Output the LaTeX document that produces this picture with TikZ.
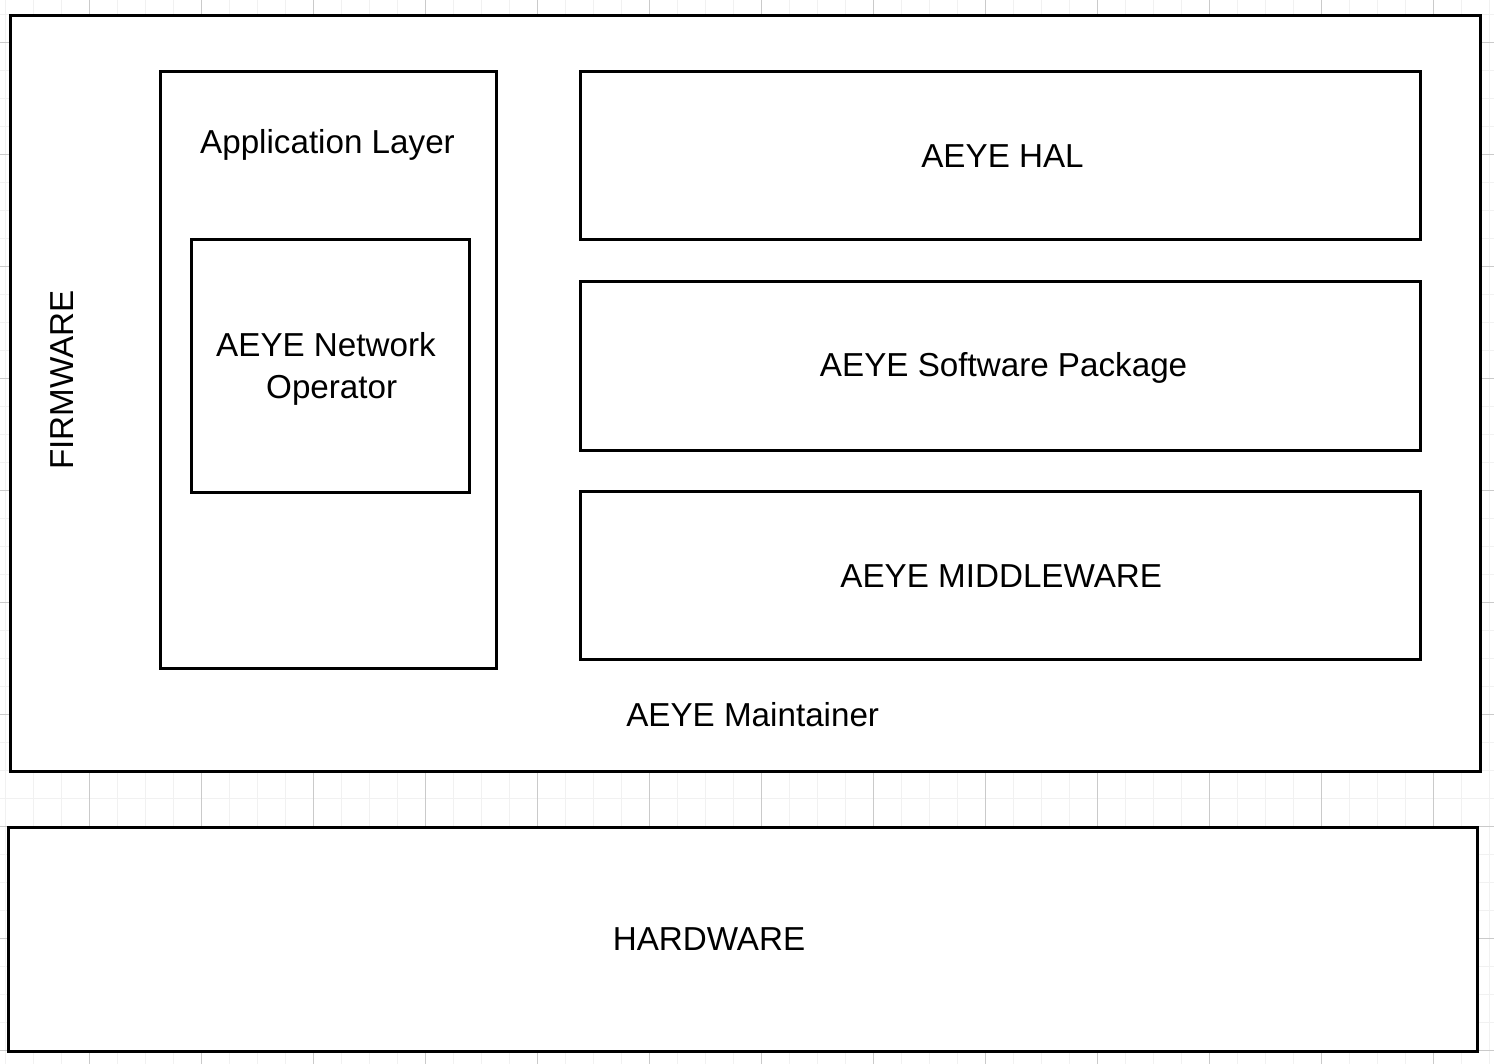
\documentclass[tikz,border=0pt]{standalone}
\usepackage{fontspec}
\setmainfont{Liberation Sans}
\definecolor{gridminor}{HTML}{F1F1F1}
\definecolor{gridmajor}{HTML}{CACACA}
\tikzset{
  box/.style={draw=black, line width=1.5pt, fill=white, rectangle, inner sep=0pt, outer sep=0pt},
  lbl/.style={anchor=base, inner sep=0pt, font=\fontsize{16.6}{20}\selectfont},
}
\begin{document}
\begin{tikzpicture}[x=0.5pt, y=-0.5pt]
\useasboundingbox (0,0) rectangle (1494,1064);
\fill[white] (0,0) rectangle (1494,1064);
% grid
\foreach \k in {0,...,53} \draw[gridminor, line width=0.5pt] ({5.3+28*\k},0) -- ({5.3+28*\k},1064);
\foreach \k in {0,...,37} \draw[gridminor, line width=0.5pt] (0,{14.3+28*\k}) -- (1494,{14.3+28*\k});
\foreach \k in {0,...,12} \draw[gridmajor, line width=0.5pt] ({89.3+112*\k},0) -- ({89.3+112*\k},1064);
\foreach \k in {0,...,9} \draw[gridmajor, line width=0.5pt] (0,{42.3+112*\k}) -- (1494,{42.3+112*\k});
% boxes
\node[box, minimum width=1470*0.5pt, minimum height=756*0.5pt] (firmware) at (745,393.8) {};
\node[box, minimum width=1469.3*0.5pt, minimum height=224*0.5pt] (hardware) at (742.7,939.8) {};
\node[box, minimum width=336*0.5pt, minimum height=596*0.5pt] (app) at (328.5,370) {};
\node[box, minimum width=278*0.5pt, minimum height=252*0.5pt] (netop) at (330,366) {};
\node[box, minimum width=840*0.5pt, minimum height=168*0.5pt] (hal) at (1000.5,156) {};
\node[box, minimum width=840*0.5pt, minimum height=168*0.5pt] (swpkg) at (1000.5,366) {};
\node[box, minimum width=840*0.5pt, minimum height=168*0.5pt] (mw) at (1000.5,575.7) {};
% labels
\node[lbl] (applbl) at (327.5,153.3) {Application Layer};
\node[lbl] (netlbl1) at (326,356.7) {AEYE Network};
\node[lbl] (netlbl2) at (331.7,398.3) {Operator};
\node[lbl] (hallbl) at (1002.5,167.3) {AEYE HAL};
\node[lbl] (swlbl) at (1003.6,376.5) {AEYE Software Package};
\node[lbl] (mwlbl) at (1001.2,587.3) {AEYE MIDDLEWARE};
\node[lbl] (mainlbl) at (752.7,726.7) {AEYE Maintainer};
\node[lbl, rotate=90] (fwlbl) at (73.3,380) {FIRMWARE};
\node[lbl] (hwlbl) at (709,950) {HARDWARE};
\end{tikzpicture}
\end{document}
